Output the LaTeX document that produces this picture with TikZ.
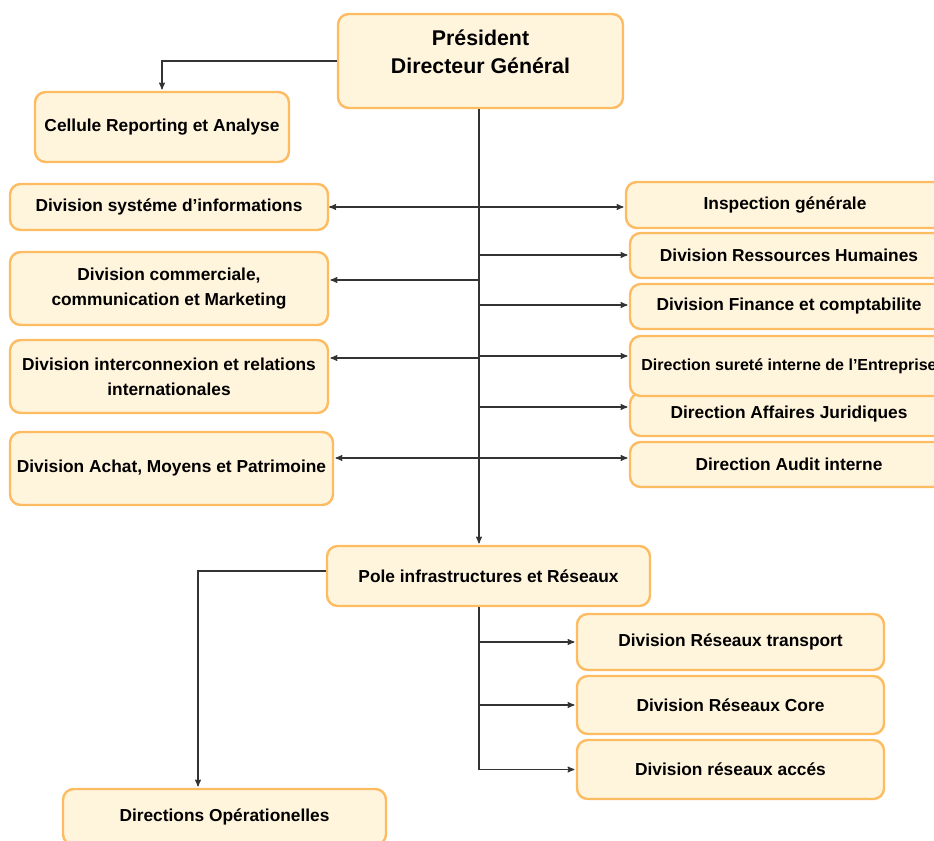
\documentclass[tikz,border=0pt]{standalone}
\usepackage{fontspec}
\setmainfont{Liberation Sans}
\usepackage{xcolor}
\usepackage{tikz}
\usetikzlibrary{arrows, positioning}

\definecolor{boxfill}{HTML}{FFF4DC}
\definecolor{boxline}{HTML}{FDBC62}
\definecolor{linkgray}{HTML}{333333}

\tikzset{
	unit/.style={draw=boxline, fill=boxfill, line width=1.8pt, rounded corners=8pt,
		align=center, inner sep=2pt, font=\fontsize{13}{18.5}\selectfont\bfseries},
	link/.style={draw=linkgray, line width=0.9pt}
}

\begin{document}
\begin{tikzpicture}[->,
			>=stealth',
			shorten >=1pt,
			x=0.75pt, y=-0.75pt]
			
			\useasboundingbox (0,0) rectangle (934,841);
			
			% top
			\node (pdg) at (480.5,61) [unit, minimum width=213.75pt, minimum height=70.5pt, font=\fontsize{16}{21}\selectfont\bfseries, text depth=14pt] {Président\\Directeur Général};
			\node (cellule) at (162,127) [unit, minimum width=190.5pt, minimum height=52.5pt] {Cellule Reporting et Analyse};
			
			% left column
			\node (dsi) at (169,207) [unit, minimum width=238.5pt, minimum height=34.5pt] {Division systéme d’informations};
			\node (dcm) at (169,288.5) [unit, minimum width=238.5pt, minimum height=54.75pt] {Division commerciale,\\communication et Marketing};
			\node (dir) at (169,376.5) [unit, minimum width=238.5pt, minimum height=54.75pt] {Division interconnexion et relations\\internationales};
			\node (dachat) at (171.5,468.5) [unit, minimum width=242.25pt, minimum height=54.75pt] {Division Achat, Moyens et Patrimoine};
			
			% right column
			\node (igen) at (785,205) [unit, minimum width=238.5pt, minimum height=34.5pt] {Inspection générale};
			\node (drh) at (789,255.5) [unit, minimum width=238.5pt, minimum height=33.75pt] {Division Ressources Humaines};
			\node (dfc) at (789,306.5) [unit, minimum width=238.5pt, minimum height=33.75pt] {Division Finance et comptabilite};
			\node (daj) at (789,414.5) [unit, minimum width=238.5pt, minimum height=32.25pt] {Direction Affaires Juridiques};
			\node (dsur) at (789,366) [unit, minimum width=238.5pt, minimum height=45pt, font=\fontsize{12}{15}\selectfont\bfseries] {Direction sureté interne de l’Entreprise};
			\node (dai) at (789,464.5) [unit, minimum width=238.5pt, minimum height=33.75pt] {Direction Audit interne};
			
			% infrastructures
			\node (pole) at (488.5,576) [unit, minimum width=242.25pt, minimum height=45pt] {Pole infrastructures et Réseaux};
			\node (drt) at (730.5,642) [unit, minimum width=230.25pt, minimum height=42pt] {Division Réseaux transport};
			\node (drc) at (730.5,705) [unit, minimum width=230.25pt, minimum height=43.5pt] {Division Réseaux Core};
			\node (dra) at (730.5,769.5) [unit, minimum width=230.25pt, minimum height=44.25pt] {Division réseaux accés};
			\node (dop) at (224.5,817) [unit, minimum width=242.25pt, minimum height=42pt] {Directions Opérationelles};
			
			\coordinate (trunk) at (479,0);
			\coordinate (drop) at (198,0);
			
			% links
			\draw[link] (pdg.west) -| (cellule.north);
			\draw[link, <->] (dsi.east) -- (dsi.east -| igen.west);
			\draw[link] (pdg.south -| trunk) -- (pole.north -| trunk);
			\foreach \n/\y in {drh/255, dfc/305, dsur/356, daj/407, dai/458}
				\draw[link] (trunk |- 0,\y) -- (\n.west |- 0,\y);
			\foreach \n/\y in {dcm/280, dir/358, dachat/458}
				\draw[link] (trunk |- 0,\y) -- (\n.east |- 0,\y);
			\draw[link] (pole.west |- 0,571) -| (dop.north -| drop);
			\draw[link] (pole.south -| trunk) |- (dra.west);
			\foreach \n in {drt, drc}
				\draw[link] (trunk |- \n.west) -- (\n.west);
		\end{tikzpicture}
\end{document}
